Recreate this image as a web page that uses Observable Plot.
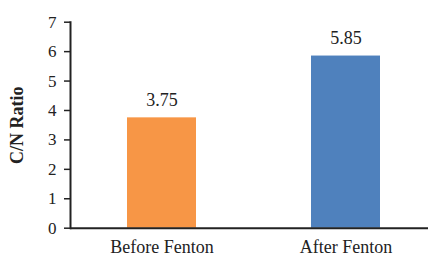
<!DOCTYPE html>
<html>
<head>
<meta charset="utf-8">
<script src="https://cdn.jsdelivr.net/npm/d3@7"></script>
<script src="https://cdn.jsdelivr.net/npm/@observablehq/plot@0.6"></script>
<style>
  html, body { margin: 0; padding: 0; background: #fff; }
  svg, svg text { font-family: "Liberation Serif", "Times New Roman", serif !important; }
</style>
</head>
<body>
<div id="chart"></div>
<script>
const categories = ["Before Fenton", "After Fenton"];
const values = [3.75, 5.85];
const barColors = ["#F79646", "#4F81BD"];
const yTicks = [0, 1, 2, 3, 4, 5, 6, 7];
const yLabel = "C/N Ratio";

const data = categories.map((c, i) => ({category: c, value: values[i], color: barColors[i], label: values[i].toFixed(2)}));

const plot = Plot.plot({
  width: 428,
  height: 257,
  marginLeft: 70,
  marginRight: 0,
  marginTop: 21.7,
  marginBottom: 29.3,
  style: {fontSize: "17px", color: "#222", background: "#fff"},
  x: {domain: categories, range: [70, 438], paddingInner: 0.623, paddingOuter: 0.3114},
  y: {domain: [0, 7]},
  marks: [
    Plot.barY(data, {x: "category", y: "value", fill: "color"}),
    Plot.text(data, {x: "category", y: "value", text: "label", dy: -18, fontSize: 18, fill: "#222"}),
    Plot.axisY(yTicks, {tickSize: 6, tickPadding: 8, fontSize: 17, label: null, stroke: "#222", strokeWidth: 1.5}),
    Plot.text([yLabel], {frameAnchor: "left", textAnchor: "middle", rotate: -90, dx: -53, fontSize: 18, fontWeight: "bold", fill: "#222"}),
    Plot.axisX({tickSize: 0, tickPadding: 12, fontSize: 18, label: null}),
    Plot.frame({anchor: "left", stroke: "#222", strokeWidth: 2}),
    Plot.ruleY([0], {stroke: "#222", strokeWidth: 2})
  ]
});
document.getElementById("chart").appendChild(plot);
</script>
</body>
</html>
